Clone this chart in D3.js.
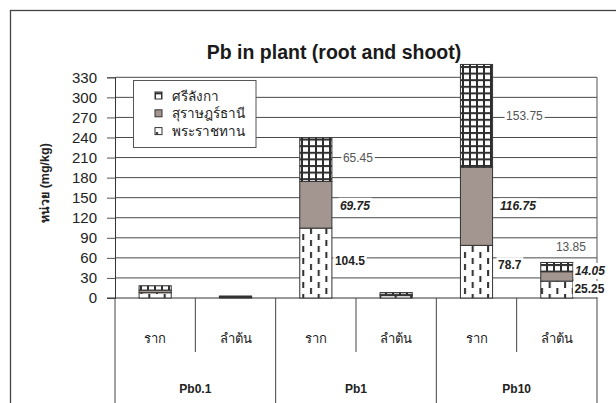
<!DOCTYPE html>
<html>
<head>
<meta charset="utf-8">
<script src="https://cdn.jsdelivr.net/npm/d3@7"></script>
<style>
  html, body { margin: 0; padding: 0; background: #fff; }
  svg { display: block; }
  text { font-family: "Liberation Sans", Arial, "Noto Sans", "DejaVu Sans", sans-serif; }
</style>
</head>
<body>
<svg id="chart" width="616" height="403"></svg>
<script>
// ---- data ----
const groups = ["Pb0.1", "Pb1", "Pb10"];
const parts = ["ราก", "ลำต้น"];
const seriesNames = ["พระราชทาน", "สุราษฎร์ธานี", "ศรีลังกา"]; // stacking order, bottom to top
// values per series, in order Pb0.1 ราก, Pb0.1 ลำต้น, Pb1 ราก, Pb1 ลำต้น, Pb10 ราก, Pb10 ลำต้น
const phraratchathan = [7.9, 1.4, 104.5, 3.6, 78.7, 25.25];
const suratthani = [4.0, 0.6, 69.75, 1.9, 116.75, 14.05];
const srilanka = [6.4, 1.0, 65.45, 2.6, 153.75, 13.85];
const yTicks = [0, 30, 60, 90, 120, 150, 180, 210, 240, 270, 300, 330];
// which bars carry value labels
const labelled = [2, 4, 5];

// ---- layout ----
const svg = d3.select("#chart");
const W = 616, H = 403;
const left = 115, right = 597, bottom = 298;
const font = '"Liberation Sans", Arial, "Noto Sans", "DejaVu Sans", sans-serif';

const cats = [];
groups.forEach(g => parts.forEach(p => cats.push({ group: g, part: p, key: g + "|" + p })));

const x = d3.scaleBand().domain(cats.map(c => c.key)).range([left, right]).paddingInner(0).paddingOuter(0);
const y = d3.scaleLinear().domain([0, 330]).range([bottom, 77.3]);
const barW = x.bandwidth() * 0.4;

// patterns
const defs = svg.append("defs");
const pg = defs.append("pattern").attr("id", "pGrid").attr("patternUnits", "userSpaceOnUse")
  .attr("width", 7).attr("height", 6.6);
pg.append("rect").attr("width", 7).attr("height", 6.6).attr("fill", "#fff");
pg.append("rect").attr("x", 0).attr("y", 0).attr("width", 2).attr("height", 6.6).attr("fill", "#2e2e2e");
pg.append("rect").attr("x", 0).attr("y", 0).attr("width", 7).attr("height", 2).attr("fill", "#2e2e2e");

const pd = defs.append("pattern").attr("id", "pDash").attr("patternUnits", "userSpaceOnUse")
  .attr("width", 15.4).attr("height", 12);
pd.append("rect").attr("width", 15.4).attr("height", 12).attr("fill", "#fff");
pd.append("rect").attr("x", 2).attr("y", 0).attr("width", 2).attr("height", 6).attr("fill", "#2e2e2e");
pd.append("rect").attr("x", 9.7).attr("y", 6).attr("width", 2).attr("height", 6).attr("fill", "#2e2e2e");

const fills = ["url(#pDash)", "#a3958f", "url(#pGrid)"];

// outer frame
svg.append("rect").attr("x", 10.5).attr("y", 10.5).attr("width", 640).attr("height", 420)
  .attr("fill", "#fff").attr("stroke", "#444").attr("stroke-width", 1.3);

// title
svg.append("text").attr("x", 334).attr("y", 59).attr("text-anchor", "middle")
  .attr("font-size", 19.5).attr("font-weight", "bold").attr("fill", "#1a1a1a")
  .text("Pb in plant (root and shoot)");

// gridlines
svg.append("g").selectAll("line").data(yTicks.filter(t => t > 0)).join("line")
  .attr("x1", left).attr("x2", right)
  .attr("y1", d => y(d)).attr("y2", d => y(d))
  .attr("stroke", "#4a4a4a").attr("stroke-width", 1);

// y axis
const yAxis = d3.axisLeft(y).tickValues(yTicks).tickSize(8).tickPadding(10);
const gy = svg.append("g").attr("transform", `translate(${left},0)`).call(yAxis);
gy.select(".domain").attr("stroke", "#333");
gy.selectAll(".tick line").attr("stroke", "#555");
gy.selectAll(".tick text").attr("font-family", font).attr("font-size", 15).attr("fill", "#222");

svg.append("text")
  .attr("transform", "translate(45,183) rotate(-90)")
  .attr("text-anchor", "middle").attr("dominant-baseline", "central")
  .attr("font-size", 12.5).attr("font-weight", "bold").attr("fill", "#222")
  .text("หน่วย (mg/kg)");

// plot right edge
svg.append("line").attr("x1", right).attr("x2", right).attr("y1", y(330)).attr("y2", bottom)
  .attr("stroke", "#555");

// x axis with two-level categories
const gx = svg.append("g");
gx.append("line").attr("x1", left - 8).attr("x2", right).attr("y1", bottom).attr("y2", bottom).attr("stroke", "#333");
const groupEdges = groups.map(g => x(g + "|" + parts[0])).concat([right]);
gx.selectAll(".gsep").data(groupEdges).join("line").attr("class", "gsep")
  .attr("x1", d => d).attr("x2", d => d).attr("y1", bottom).attr("y2", H + 5)
  .attr("stroke", "#444");
gx.selectAll(".psep").data(groups).join("line").attr("class", "psep")
  .attr("x1", g => x(g + "|" + parts[1])).attr("x2", g => x(g + "|" + parts[1]))
  .attr("y1", bottom).attr("y2", 352).attr("stroke", "#444");
gx.selectAll(".plab").data(cats).join("text").attr("class", "plab")
  .attr("x", c => x(c.key) + x.bandwidth() / 2).attr("y", 338)
  .attr("text-anchor", "middle").attr("dominant-baseline", "central")
  .attr("font-size", 13).attr("fill", "#222").text(c => c.part);
gx.selectAll(".glab").data(groups).join("text").attr("class", "glab")
  .attr("x", g => x(g + "|" + parts[0]) + x.bandwidth())
  .attr("y", 389).attr("text-anchor", "middle").attr("dominant-baseline", "central")
  .attr("font-size", 12).attr("font-weight", "bold").attr("fill", "#222").text(g => g);

// stacked bars
const rows = cats.map((c, i) => ({
  key: c.key,
  [seriesNames[0]]: phraratchathan[i],
  [seriesNames[1]]: suratthani[i],
  [seriesNames[2]]: srilanka[i]
}));
const stacked = d3.stack().keys(seriesNames)(rows);

const gb = svg.append("g");
stacked.forEach((layer, si) => {
  gb.append("g").selectAll("rect").data(layer).join("rect")
    .attr("x", d => x(d.data.key) + (x.bandwidth() - barW) / 2)
    .attr("width", barW)
    .attr("y", d => y(d[1]))
    .attr("height", d => y(d[0]) - y(d[1]))
    .attr("fill", fills[si])
    .attr("stroke", "#333").attr("stroke-width", 1);
});

// value labels (hand-placed offsets from bar edge / segment middle)
const labelNudge = {
  "2-0": [3, -2], "2-1": [8, 1], "2-2": [11, -2],
  "4-0": [5.5, -6.5], "4-1": [7.5, 0], "4-2": [13.5, 0],
  "5-0": [1.5, -0.5], "5-1": [2, -5.5], "5-2": [-17, -20]
};
const labelStyle = [
  { weight: "bold", style: "normal", color: "#222" },
  { weight: "bold", style: "italic", color: "#222" },
  { weight: "normal", style: "normal", color: "#555" }
];
const gl = svg.append("g");
stacked.forEach((layer, si) => {
  layer.forEach((d, ci) => {
    if (!labelled.includes(ci)) return;
    const n = labelNudge[ci + "-" + si];
    const xr = x(d.data.key) + (x.bandwidth() + barW) / 2;
    const ym = y((d[0] + d[1]) / 2);
    const st = labelStyle[si];
    const t = gl.append("text")
      .attr("x", xr + n[0]).attr("y", ym + n[1])
      .attr("dominant-baseline", "central")
      .attr("font-size", 12).attr("font-weight", st.weight).attr("font-style", st.style)
      .attr("fill", st.color)
      .text(String(+(d[1] - d[0]).toFixed(2)));
    const bb = t.node().getBBox();
    gl.insert("rect", () => t.node())
      .attr("x", bb.x - 1.5).attr("y", bb.y - 1).attr("width", bb.width + 3).attr("height", bb.height + 2)
      .attr("fill", "#fff");
  });
});

// legend
const lg = svg.append("g");
lg.append("rect").attr("x", 133.5).attr("y", 80.5).attr("width", 122.5).attr("height", 67)
  .attr("fill", "#fff").attr("stroke", "#555");
const legendOrder = [2, 1, 0];
legendOrder.forEach((si, i) => {
  const cy = 96 + i * 17.8;
  lg.append("rect").attr("x", 155).attr("y", cy - 4).attr("width", 7).attr("height", 7)
    .attr("fill", fills[si]).attr("stroke", "#333");
  lg.append("text").attr("x", 172).attr("y", cy).attr("dominant-baseline", "central")
    .attr("font-size", 13.5).attr("fill", "#222").text(seriesNames[si]);
});
</script>
</body>
</html>
